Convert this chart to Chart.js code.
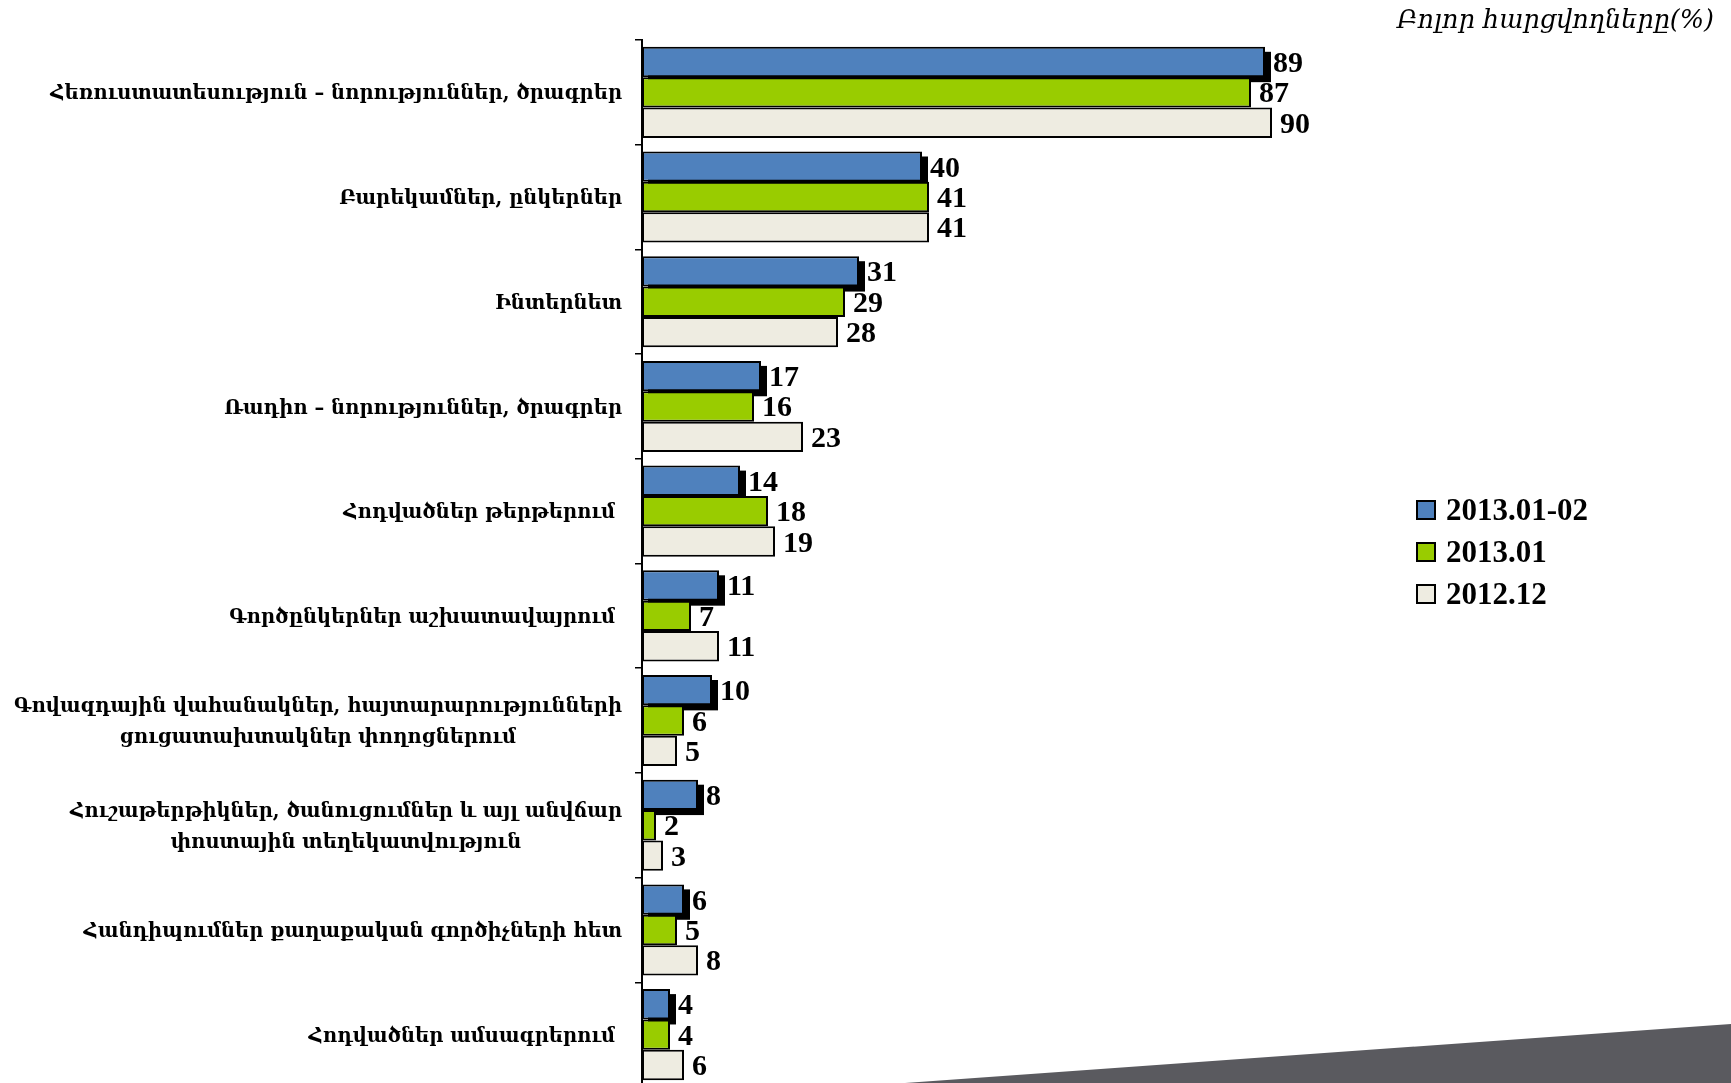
<!DOCTYPE html>
<html><head><meta charset="utf-8">
<script src="https://cdn.jsdelivr.net/npm/chart.js@4.4.0/dist/chart.umd.min.js"></script>
<style>
html,body{margin:0;padding:0;background:#fff;overflow:hidden;width:1731px;height:1083px;}
#wrap{position:relative;width:1731px;height:1083px;overflow:hidden;}
canvas{position:absolute;left:0;top:0;}
#title{position:absolute;right:17px;top:4px;font:italic 25.5px "DejaVu Serif";color:#000;white-space:nowrap;}
#legend{position:absolute;left:1416px;top:489px;}
.li{display:flex;align-items:center;height:42px;font:bold 31px "Liberation Serif";color:#000;}
.sw{width:16px;height:16px;border:2px solid #000;margin-right:10px;}
#tri{position:absolute;left:0;top:0;width:1731px;height:1083px;background:#5a5a5f;clip-path:polygon(905px 1083px,1731px 1024px,1731px 1083px);}
</style></head>
<body><div id="wrap">
<canvas id="c" width="1731" height="1087"></canvas>
<div id="tri"></div>
<div id="title">Բոլոր հարցվողները(%)</div>
<div id="legend"></div>
</div>
<script>
const categories = [
  "Հեռուստատեսություն – նորություններ, ծրագրեր",
  "Բարեկամներ, ընկերներ",
  "Ինտերնետ",
  "Ռադիո – նորություններ, ծրագրեր",
  "Հոդվածներ թերթերում ",
  "Գործընկերներ աշխատավայրում ",
  ["Գովազդային վահանակներ, հայտարարությունների", "ցուցատախտակներ փողոցներում"],
  ["Հուշաթերթիկներ, ծանուցումներ և այլ անվճար", "փոստային տեղեկատվություն"],
  "Հանդիպումներ քաղաքական գործիչների հետ",
  "Հոդվածներ ամսագրերում "
];
const seriesNames = ["2013.01-02", "2013.01", "2012.12"];
const values_2013_01_02 = [89, 40, 31, 17, 14, 11, 10, 8, 6, 4];
const values_2013_01    = [87, 41, 29, 16, 18, 7, 6, 2, 5, 4];
const values_2012_12    = [90, 41, 28, 23, 19, 11, 5, 3, 8, 6];
const seriesColors = ["#4f81bd", "#99cc00", "#eeece1"];
const seriesValues = [values_2013_01_02, values_2013_01, values_2012_12];

const LABEL_FONT = 'bold 19.5px "DejaVu Serif"';
const VALUE_FONT = 'bold 30px "Liberation Serif"';

const shadowPlugin = {
  id: 'shadow',
  beforeDatasetsDraw(chart) {
    const ctx = chart.ctx;
    const meta = chart.getDatasetMeta(0);
    ctx.save();
    ctx.fillStyle = '#000';
    meta.data.forEach(b => {
      const p = b.getProps(['x','y','base','height'], true);
      ctx.fillRect(p.base + 6, p.y - p.height/2 + 5, p.x - p.base, p.height);
    });
    ctx.restore();
  }
};

const labelPlugin = {
  id: 'labels',
  afterDatasetsDraw(chart) {
    const ctx = chart.ctx;
    ctx.save();
    ctx.fillStyle = '#000';
    ctx.font = VALUE_FONT;
    ctx.textAlign = 'left';
    ctx.textBaseline = 'alphabetic';
    chart.data.datasets.forEach((ds, di) => {
      const meta = chart.getDatasetMeta(di);
      meta.data.forEach((b, i) => {
        const p = b.getProps(['x','y'], true);
        ctx.fillText(String(ds.data[i]), p.x + 8, p.y + 10);
      });
    });
    const ys = chart.scales.y;
    const right = chart.chartArea.left - 20;
    ctx.font = LABEL_FONT;
    ctx.textAlign = 'center';
    ctx.textBaseline = 'middle';
    const lh = 31;
    categories.forEach((c, i) => {
      const lines = Array.isArray(c) ? c : [c];
      const w = Math.max(...lines.map(l => ctx.measureText(l).width));
      const cx = right - w/2;
      const cy = ys.getPixelForValue(i);
      lines.forEach((l, k) => {
        ctx.fillText(l, cx, cy + 2 + (k - (lines.length-1)/2) * lh);
      });
    });
    ctx.restore();
  }
};

new Chart(document.getElementById('c'), {
  type: 'bar',
  data: {
    labels: categories,
    datasets: seriesNames.map((n, i) => ({
      label: n,
      data: seriesValues[i],
      backgroundColor: seriesColors[i],
      borderColor: '#000',
      borderWidth: 2,
      borderSkipped: false,
      categoryPercentage: 0.87,
      barPercentage: 1.0
    }))
  },
  options: {
    indexAxis: 'y',
    responsive: false,
    animation: false,
    devicePixelRatio: 1,
    layout: { padding: { left: 0, right: 389, top: 40, bottom: 0 } },
    plugins: { legend: { display: false }, tooltip: { enabled: false } },
    scales: {
      x: { display: false, min: 0, max: 100 },
      y: {
        afterFit(s) { s.width = 642; },
        ticks: { display: false },
        grid: { display: true, drawOnChartArea: false, drawTicks: true, tickLength: 7, color: '#000', lineWidth: 1.5 },
        border: { display: true, color: '#000', width: 2 }
      }
    }
  },
  plugins: [shadowPlugin, labelPlugin]
});

const leg = document.getElementById('legend');
seriesNames.forEach((n, i) => {
  const d = document.createElement('div'); d.className = 'li';
  const s = document.createElement('span'); s.className = 'sw'; s.style.background = seriesColors[i];
  const t = document.createElement('span'); t.textContent = n;
  d.appendChild(s); d.appendChild(t); leg.appendChild(d);
});
</script>
</body></html>
